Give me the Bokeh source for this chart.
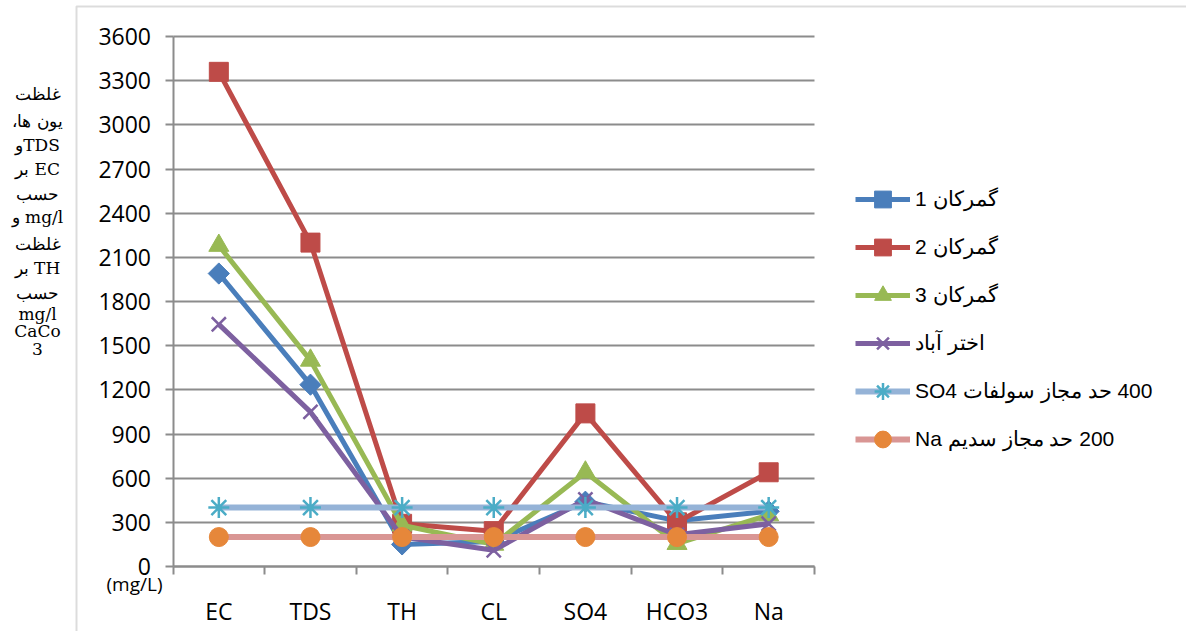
import numpy as np
from bokeh.plotting import figure
from bokeh.models import (Range1d, FixedTicker, Legend, LegendItem, Label, BoxAnnotation)
from bokeh.embed import file_html
from bokeh.resources import INLINE

# ---------------- data ----------------
categories = ["EC", "TDS", "TH", "CL", "SO4", "HCO3", "Na"]
gomrokan1 = [1990, 1235, 150, 170, 440, 310, 375]
gomrokan2 = [3360, 2200, 290, 240, 1040, 300, 640]
gomrokan3 = [2180, 1400, 280, 150, 640, 155, 350]
akhtarabad = [1645, 1050, 200, 110, 455, 215, 290]
so4_limit = [400, 400, 400, 400, 400, 400, 400]
na_limit = [200, 200, 200, 200, 200, 200, 200]

series_names = ["گمرکان 1", "گمرکان 2", "گمرکان 3", "اختر آباد",
                "400 حد مجاز سولفات SO4", "200 حد مجاز سدیم Na"]
y_ticks = [0, 300, 600, 900, 1200, 1500, 1800, 2100, 2400, 2700, 3000, 3300, 3600]
y_title_lines = ["غلظت", "یون ها،", "TDSو", "EC بر", "حسب", "mg/l و",
                 "غلظت", "TH بر", "حسب", "mg/l", "CaCo", "3"]
unit_label = "(mg/L)"

# ---------------- layout geometry (pixels) ----------------
W, H = 1186, 631
AX_L, AX_R, AX_T, AX_B = 172.5, 814.0, 36.0, 566.0   # plotting area in page pixels
YMAX = 3600.0
NCAT = len(categories)
kx = (AX_R - AX_L) / NCAT
ky = (AX_B - AX_T) / YMAX

def px_x(px):
    return (px - AX_L) / kx

def px_y(py):
    return (AX_B - py) / ky

p = figure(width=W, height=H, output_backend="svg", toolbar_location=None,
           x_range=Range1d(px_x(0), px_x(W)), y_range=Range1d(px_y(H), px_y(0)),
           min_border_left=0, min_border_right=0, min_border_top=0, min_border_bottom=0)
p.title.visible = False
p.outline_line_color = None
p.background_fill_color = "white"
p.border_fill_color = "white"

GRID = "#8C8C8C"
xc = [i + 0.5 for i in range(NCAT)]

p.xgrid.visible = False
p.ygrid.ticker = FixedTicker(ticks=y_ticks)
p.ygrid.bounds = (0, YMAX)
p.ygrid.cross_bounds = (0, NCAT)
p.ygrid.grid_line_color = GRID
p.ygrid.grid_line_width = 2

xa = p.xaxis[0]
xa.fixed_location = 0
xa.bounds = (0, NCAT)
xa.ticker = FixedTicker(ticks=xc, minor_ticks=list(range(NCAT + 1)))
xa.major_label_overrides = {x: c for x, c in zip(xc, categories)}
xa.major_tick_out = 0
xa.major_tick_in = 0
xa.minor_tick_out = 8
xa.minor_tick_in = 0
xa.minor_tick_line_color = GRID
xa.minor_tick_line_width = 2
xa.axis_line_color = GRID
xa.axis_line_width = 2
xa.major_label_standoff = 20
xa.major_label_text_font = "Open Sans"
xa.major_label_text_font_size = "23px"
xa.major_label_text_color = "black"

ya = p.yaxis[0]
ya.fixed_location = 0
ya.bounds = (0, YMAX)
ya.ticker = FixedTicker(ticks=y_ticks)
ya.major_tick_out = 8
ya.major_tick_in = 0
ya.minor_tick_out = 0
ya.minor_tick_in = 0
ya.major_tick_line_color = GRID
ya.major_tick_line_width = 2
ya.axis_line_color = GRID
ya.axis_line_width = 2
ya.major_label_standoff = 14
ya.major_label_text_font = "Open Sans"
ya.major_label_text_font_size = "23px"
ya.major_label_text_color = "black"

# ---------------- series ----------------
styles = [
    dict(data=gomrokan1, lc="#4A7EBB", mc="#4A7EBB", marker="square", size=15, angle=np.pi / 4, lw=5, mlw=1),
    dict(data=gomrokan2, lc="#BE4B48", mc="#BE4B48", marker="square", size=19, angle=0, lw=5, mlw=1),
    dict(data=gomrokan3, lc="#98B954", mc="#98B954", marker="triangle", size=20, angle=0, lw=5, mlw=1),
    dict(data=akhtarabad, lc="#7D60A0", mc="#7D60A0", marker="x", size=20, angle=0, lw=5, mlw=2.5),
    dict(data=so4_limit, lc="#95B3D7", mc="#4BACC6", marker="asterisk", size=21, angle=0, lw=6, mlw=2.5),
    dict(data=na_limit, lc="#D99694", mc="#E6873A", marker="circle", size=19, angle=0, lw=6, mlw=1),
]

items = []
for name, st in zip(series_names, styles):
    lr = p.line(xc, st["data"], line_color=st["lc"], line_width=st["lw"], line_join="round")
    sr = p.scatter(xc, st["data"], marker=st["marker"], size=st["size"], angle=st["angle"],
                   fill_color=st["mc"], line_color=st["mc"], line_width=st["mlw"])
    items.append(LegendItem(label="\u202b" + name + "\u202c", renderers=[lr, sr]))

legend = Legend(items=items, location=(855, H - 460),
                glyph_width=55, glyph_height=42, spacing=6, label_standoff=5,
                padding=0, margin=0, border_line_color=None, background_fill_alpha=0,
                label_text_font="Liberation Sans", label_text_font_size="21px",
                label_text_color="black")
p.add_layout(legend)

# ---------------- outer border ----------------
p.add_layout(BoxAnnotation(left=px_x(76), right=px_x(W + 40), top=px_y(6), bottom=px_y(H + 40),
                           fill_alpha=0, line_color=GRID, line_width=2))

# ---------------- y title (right-to-left lines) ----------------
title_y = [93, 120, 144, 168, 193, 216, 243, 267, 292, 313, 330, 348]
for t, yy in zip(y_title_lines, title_y):
    p.add_layout(Label(x=px_x(37), y=px_y(yy),
                       text="\u202b" + t + "\u202c", text_align="center", text_baseline="middle",
                       text_font="DejaVu Serif", text_font_size="17px",
                       text_color="black"))

p.add_layout(Label(x=px_x(134), y=px_y(583),
                   text=unit_label, text_align="center", text_baseline="middle",
                   text_font="Open Sans", text_font_size="19px", text_color="black"))

open("out.html", "w").write(file_html(p, INLINE))
